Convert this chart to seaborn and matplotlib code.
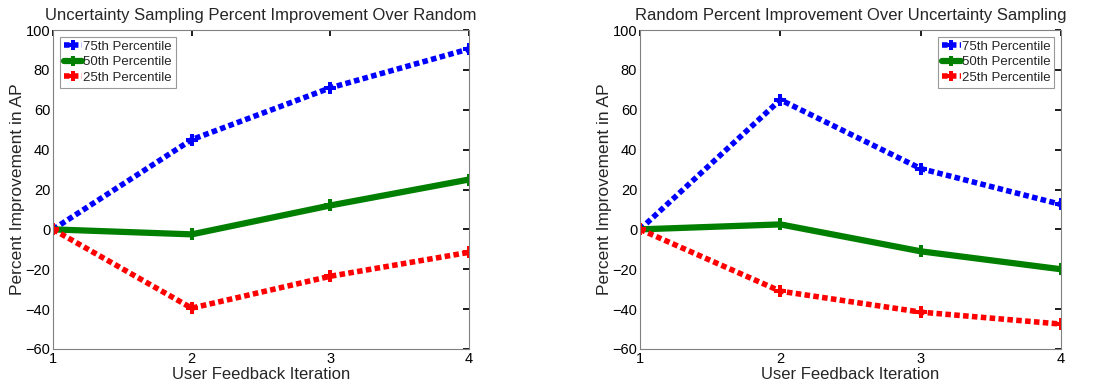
import matplotlib
matplotlib.use("Agg")
import matplotlib.pyplot as plt
import seaborn as sns
import pandas as pd

sns.set_theme(style="white")
plt.rcParams["font.family"] = ["Liberation Sans", "DejaVu Sans"]

iterations = [1, 2, 3, 4]
series_names = ["75th Percentile", "50th Percentile", "25th Percentile"]

unc_p75 = [0, 45, 71, 90.5]
unc_p50 = [0, -2.5, 12, 25]
unc_p25 = [0, -39.5, -23.5, -11.5]

rnd_p75 = [0, 65, 30.5, 12.5]
rnd_p50 = [0, 2.5, -11, -20]
rnd_p25 = [0, -31, -41.5, -47.5]

titles = ["Uncertainty Sampling Percent Improvement Over Random",
          "Random Percent Improvement Over Uncertainty Sampling"]
legend_locs = ["upper left", "upper right"]
yticks = [-60, -40, -20, 0, 20, 40, 60, 80, 100]

colors = {"75th Percentile": "#0000ff", "50th Percentile": "#007f00",
          "25th Percentile": "#ff0000"}
styles = {"75th Percentile": (0, (1, 0.6)), "50th Percentile": "-",
          "25th Percentile": (0, (1, 0.6))}
widths = {"75th Percentile": 4, "50th Percentile": 4.5, "25th Percentile": 4}


def frame(p75, p50, p25):
    rows = []
    for name, vals in zip(series_names, [p75, p50, p25]):
        for it, v in zip(iterations, vals):
            rows.append({"iteration": it, "value": v, "series": name})
    return pd.DataFrame(rows)


fig = plt.figure(figsize=(10.94, 3.87), dpi=100)
ax1 = fig.add_axes([53 / 1094, 1 - 349 / 387, 416 / 1094, 319 / 387])
ax2 = fig.add_axes([640 / 1094, 1 - 349 / 387, 421 / 1094, 319 / 387])

datasets = [frame(unc_p75, unc_p50, unc_p25), frame(rnd_p75, rnd_p50, rnd_p25)]

for ax, df, title, loc in zip([ax1, ax2], datasets, titles, legend_locs):
    for name in series_names:
        sub = df[df["series"] == name]
        sns.lineplot(data=sub, x="iteration", y="value", ax=ax,
                     color=colors[name], linestyle=styles[name],
                     linewidth=widths[name], marker="P", markersize=9,
                     markeredgewidth=0, label=name)
    ax.set_xlim(1, 4)
    ax.set_ylim(-60, 100)
    ax.set_xticks(iterations)
    ax.set_yticks(yticks)
    ax.tick_params(direction="in", length=4, top=True, right=True,
                   labelsize=10.5, colors="black", pad=2)
    for s in ax.spines.values():
        s.set_color("#808080")
        s.set_linewidth(0.8)
    ax.set_title(title, fontsize=12, pad=7)
    ax.set_xlabel("User Feedback Iteration", fontsize=12, labelpad=1)
    ax.set_ylabel("Percent Improvement in AP", fontsize=12.5, labelpad=0)
    leg = ax.legend(loc=loc, fontsize=9.5, frameon=True, fancybox=False,
                    borderpad=0.3, labelspacing=0.25, handlelength=1.4,
                    handletextpad=0.1, borderaxespad=0.5, markerscale=0.8)
    leg.get_frame().set_edgecolor("#808080")
    leg.get_frame().set_linewidth(0.8)

fig.savefig("out.png", dpi=100, facecolor="white")
